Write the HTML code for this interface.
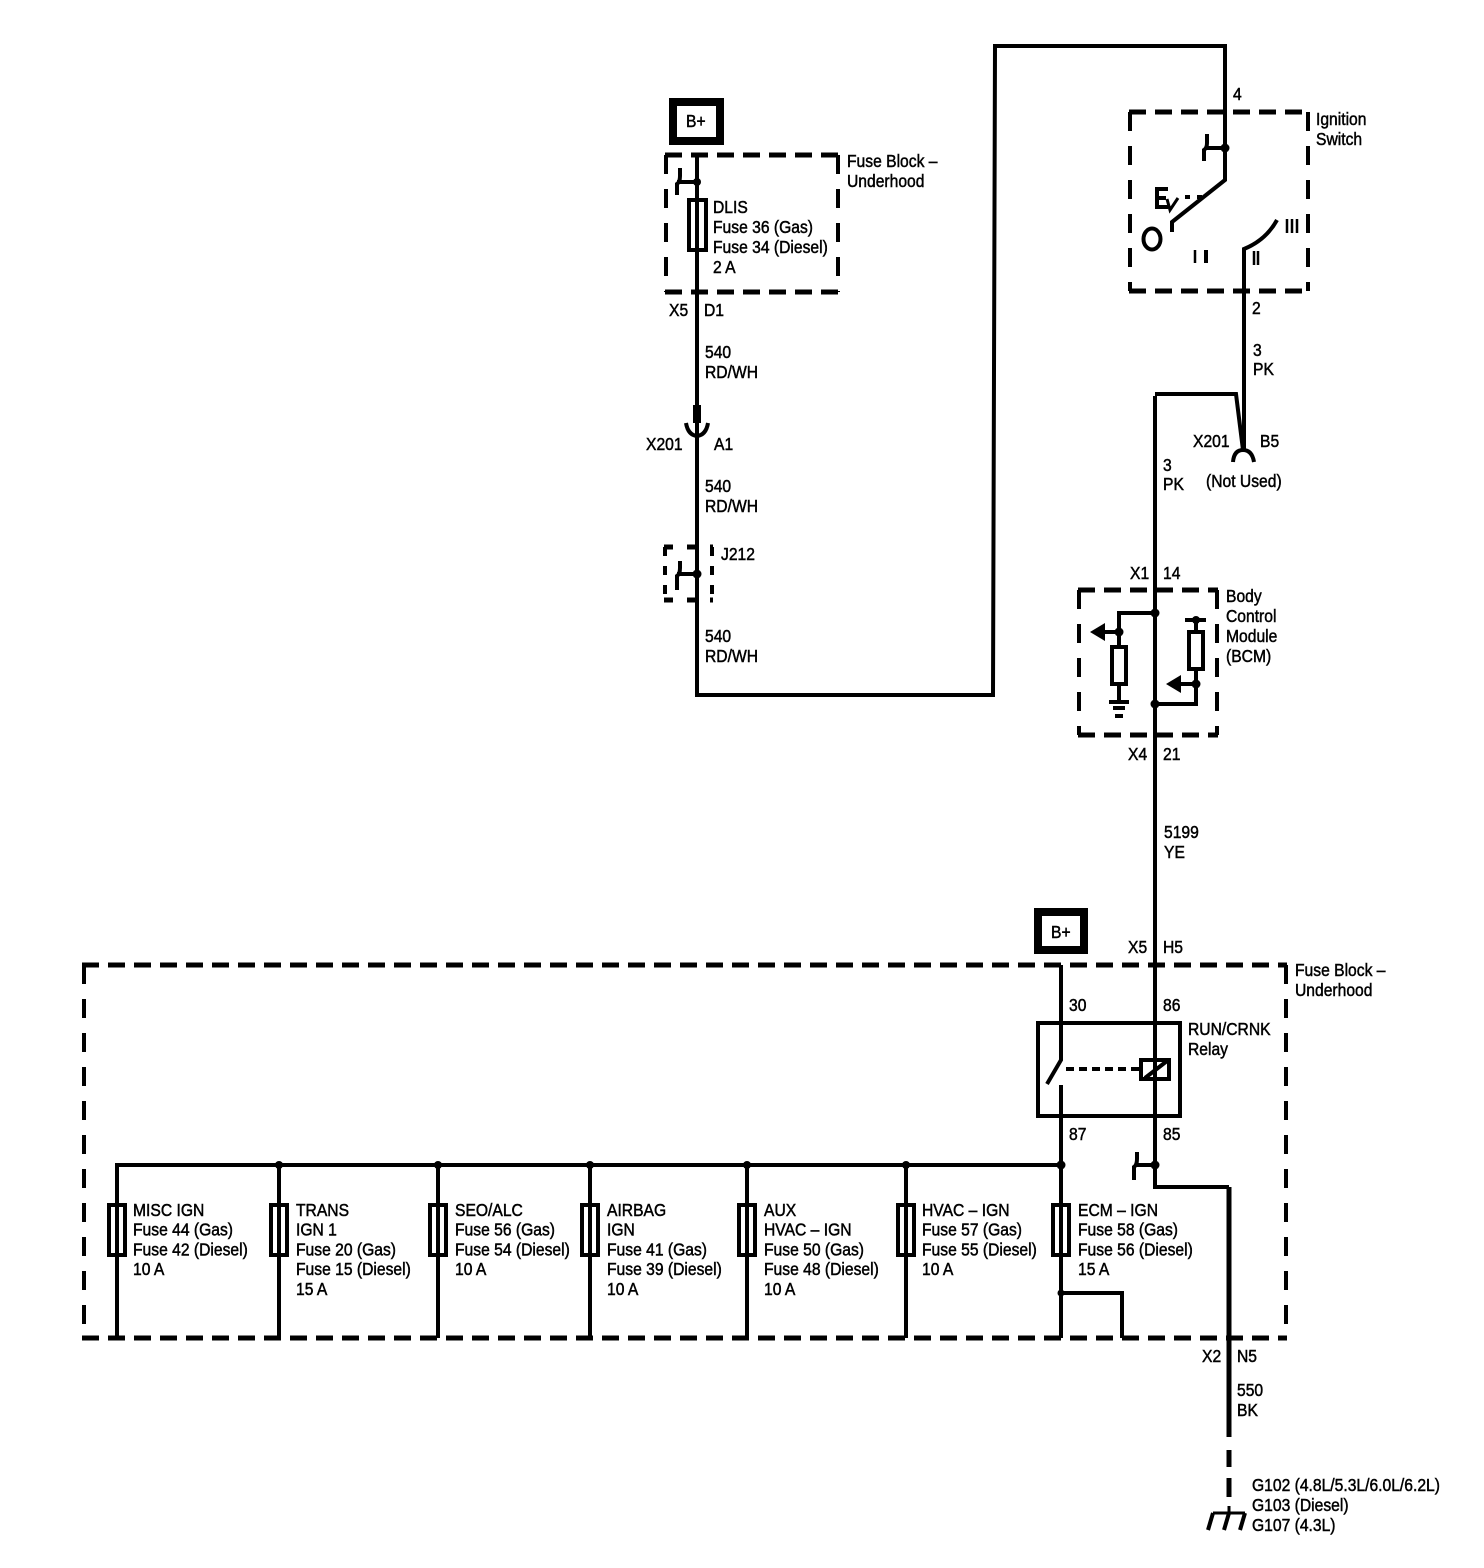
<!DOCTYPE html>
<html><head><meta charset="utf-8"><style>
html,body{margin:0;padding:0;background:#fff}
svg{display:block}
text{font-family:"Liberation Sans",sans-serif;font-size:18px;fill:#000;stroke:#000;stroke-width:.5}
.w{fill:none;stroke:#000;stroke-width:4}
.h{fill:none;stroke:#000;stroke-width:5;stroke-dasharray:17 9}
.v{fill:none;stroke:#000;stroke-width:4;stroke-dasharray:19 15}
.f{fill:none;stroke:#000;stroke-width:4}
</style></head><body>
<svg width="1484" height="1568" viewBox="0 0 1484 1568" xmlns="http://www.w3.org/2000/svg">
<!-- B+ boxes -->
<rect x="673" y="102" width="47" height="39" fill="none" stroke="#000" stroke-width="8"/>
<rect x="1038" y="912" width="46" height="38" fill="none" stroke="#000" stroke-width="8"/>
<!-- Dashed boxes -->
<path class="h" d="M665 155H838M665 292H838"/><path class="v" d="M666 155V292M838 155V292"/>
<path class="h" d="M1129 112H1309M1129 291H1309"/><path class="v" d="M1130 112V291M1308 112V291"/>
<path class="h" d="M664 547H713M664 600H713" style="stroke-dasharray:9 14"/><path class="v" d="M665 547V600M712 547V600" style="stroke-dasharray:9 10"/>
<path class="h" d="M1078 590H1218M1078 735H1218"/><path class="v" d="M1079 590V735M1217 590V735"/>
<path class="h" d="M82 965H1287M82 1338H1287"/><path class="v" d="M84 965V1338M1286 965V1338"/>
<!-- Left feed -->
<path class="w" d="M697 155V695H993L995 46H1225V180L1172 222V232"/>
<path d="M697 405V423" stroke="#000" stroke-width="8" fill="none"/>
<path class="w" d="M686 423Q688 435 697 436Q706 435 708 423"/>
<path class="w" d="M680 168V176Q680 182 677 184V195M677 182H697"/>
<circle cx="697" cy="182" r="4"/>
<rect x="689" y="200" width="17" height="50" class="f"/>
<path class="w" d="M680 561V568Q680 574 677 576V590M677 574H697"/>
<circle cx="697" cy="574" r="4.5"/>
<!-- Switch -->
<path class="w" d="M1207 134V143Q1207 148 1204 150V161M1205 148H1225"/>
<circle cx="1225" cy="148" r="4.5"/>
<ellipse cx="1152" cy="239" rx="8.5" ry="10.5" fill="none" stroke="#000" stroke-width="4"/>
<path class="w" d="M1168 189H1157V207H1168M1157 198H1166" style="stroke-width:4"/>
<path class="w" d="M1167 199L1170 210L1178 198" style="stroke-width:3"/>
<path class="w" d="M1185 197H1190M1197 197H1202"/>
<path class="w" d="M1195 250V263" style="stroke-width:2.5"/>
<path class="w" d="M1206 250V263" style="stroke-width:4"/>
<path class="w" d="M1254 251V265M1258 251V265" style="stroke-width:2.5"/>
<path class="w" d="M1287 219V233M1292 219V233M1297 219V233" style="stroke-width:2.5"/>
<path class="w" d="M1277 220Q1266 240 1244 249V450"/>
<path class="w" d="M1155 396V1165M1155 394H1236L1243 450"/>
<path class="w" d="M1233 462Q1234 450 1243 450Q1252 450 1254 462"/>
<!-- BCM -->
<circle cx="1155" cy="613" r="4.5"/>
<path class="w" d="M1155 613H1119V647M1119 684V702"/>
<rect x="1112" y="647" width="14" height="37" class="f"/>
<circle cx="1119" cy="632" r="4.5"/>
<path class="w" d="M1119 632H1100"/>
<path d="M1090 632L1105 623V641Z"/>
<path class="w" d="M1109 702H1129M1113 708H1125"/>
<path class="w" d="M1115 716H1123"/>
<circle cx="1196" cy="620" r="4"/>
<path class="w" d="M1185 620H1206M1196 620V632M1196 669V704H1155"/>
<rect x="1189" y="632" width="14" height="37" class="f"/>
<circle cx="1196" cy="684" r="4.5"/>
<path class="w" d="M1196 684H1176"/>
<path d="M1166 684L1181 675V693Z"/>
<circle cx="1155" cy="704" r="4.5"/>
<!-- Relay -->
<rect x="1038" y="1023" width="142" height="93" class="f"/>
<path class="w" d="M1061 965V1060L1047 1084M1061 1085V1338"/>
<path d="M1066 1069H1140" fill="none" stroke="#000" stroke-width="4" stroke-dasharray="8 5"/>
<rect x="1141" y="1060" width="28" height="19" class="f"/>
<path class="w" d="M1145 1078L1167 1061"/>
<path class="w" d="M1155 1165V1187H1229"/>
<path d="M1229 1187V1437" fill="none" stroke="#000" stroke-width="5"/>
<path class="w" d="M1137 1152V1159Q1137 1165 1134 1167V1180M1135 1165H1155"/>
<circle cx="1155" cy="1165" r="4.5"/>
<!-- Ground -->
<path d="M1229 1450V1467M1229 1478V1497" fill="none" stroke="#000" stroke-width="5"/>
<path class="w" d="M1229 1506V1513M1213 1513H1245" style="stroke-width:3"/>
<path class="w" d="M1213 1513L1208 1530M1229 1513L1224 1530M1245 1513L1240 1530" style="stroke-width:4"/>
<!-- Bus -->
<path class="w" d="M117 1338V1165H1061M279 1165V1338M438 1165V1338M590 1165V1338M747 1165V1338M906 1165V1338"/>
<path class="w" d="M1061 1293H1122V1338"/>
<circle cx="279" cy="1165" r="4"/><circle cx="438" cy="1165" r="4"/><circle cx="590" cy="1165" r="4"/><circle cx="747" cy="1165" r="4"/><circle cx="906" cy="1165" r="4"/><circle cx="1061" cy="1165" r="4.5"/><circle cx="1061" cy="1293" r="3.5"/>
<rect x="109" y="1205" width="16" height="50" class="f"/>
<rect x="271" y="1205" width="16" height="50" class="f"/>
<rect x="430" y="1205" width="16" height="50" class="f"/>
<rect x="582" y="1205" width="16" height="50" class="f"/>
<rect x="739" y="1205" width="16" height="50" class="f"/>
<rect x="898" y="1205" width="16" height="50" class="f"/>
<rect x="1053" y="1205" width="16" height="50" class="f"/>
<!-- Labels -->
<g transform="translate(686,127) scale(.87,1)"><text>B+</text></g>
<g transform="translate(1051,938) scale(.87,1)"><text>B+</text></g>
<g transform="translate(847,167) scale(.87,1)"><text>Fuse Block –<tspan x="0" dy="20">Underhood</tspan></text></g>
<g transform="translate(713,213) scale(.87,1)"><text>DLIS<tspan x="0" dy="20">Fuse 36 (Gas)</tspan><tspan x="0" dy="20">Fuse 34 (Diesel)</tspan><tspan x="0" dy="20">2 A</tspan></text></g>
<g transform="translate(669,316) scale(.87,1)"><text>X5</text></g>
<g transform="translate(704,316) scale(.87,1)"><text>D1</text></g>
<g transform="translate(705,358) scale(.87,1)"><text>540<tspan x="0" dy="20">RD/WH</tspan></text></g>
<g transform="translate(646,450) scale(.87,1)"><text>X201</text></g>
<g transform="translate(714,450) scale(.87,1)"><text>A1</text></g>
<g transform="translate(705,492) scale(.87,1)"><text>540<tspan x="0" dy="20">RD/WH</tspan></text></g>
<g transform="translate(721,560) scale(.87,1)"><text>J212</text></g>
<g transform="translate(705,642) scale(.87,1)"><text>540<tspan x="0" dy="20">RD/WH</tspan></text></g>
<g transform="translate(1233,100) scale(.87,1)"><text>4</text></g>
<g transform="translate(1316,125) scale(.87,1)"><text>Ignition<tspan x="0" dy="20">Switch</tspan></text></g>
<g transform="translate(1252,314) scale(.87,1)"><text>2</text></g>
<g transform="translate(1253,356) scale(.87,1)"><text>3<tspan x="0" dy="19">PK</tspan></text></g>
<g transform="translate(1193,447) scale(.87,1)"><text>X201</text></g>
<g transform="translate(1260,447) scale(.87,1)"><text>B5</text></g>
<g transform="translate(1163,471) scale(.87,1)"><text>3<tspan x="0" dy="19">PK</tspan></text></g>
<g transform="translate(1206,487) scale(.87,1)"><text>(Not Used)</text></g>
<g transform="translate(1130,579) scale(.87,1)"><text>X1</text></g>
<g transform="translate(1163,579) scale(.87,1)"><text>14</text></g>
<g transform="translate(1226,602) scale(.87,1)"><text>Body<tspan x="0" dy="20">Control</tspan><tspan x="0" dy="20">Module</tspan><tspan x="0" dy="20">(BCM)</tspan></text></g>
<g transform="translate(1128,760) scale(.87,1)"><text>X4</text></g>
<g transform="translate(1163,760) scale(.87,1)"><text>21</text></g>
<g transform="translate(1164,838) scale(.87,1)"><text>5199<tspan x="0" dy="20">YE</tspan></text></g>
<g transform="translate(1128,953) scale(.87,1)"><text>X5</text></g>
<g transform="translate(1163,953) scale(.87,1)"><text>H5</text></g>
<g transform="translate(1295,976) scale(.87,1)"><text>Fuse Block –<tspan x="0" dy="20">Underhood</tspan></text></g>
<g transform="translate(1069,1011) scale(.87,1)"><text>30</text></g>
<g transform="translate(1163,1011) scale(.87,1)"><text>86</text></g>
<g transform="translate(1188,1035) scale(.87,1)"><text>RUN/CRNK<tspan x="0" dy="20">Relay</tspan></text></g>
<g transform="translate(1069,1140) scale(.87,1)"><text>87</text></g>
<g transform="translate(1163,1140) scale(.87,1)"><text>85</text></g>
<g transform="translate(133,1216) scale(.87,1)"><text>MISC IGN<tspan x="0" dy="19.7">Fuse 44 (Gas)</tspan><tspan x="0" dy="19.7">Fuse 42 (Diesel)</tspan><tspan x="0" dy="19.7">10 A</tspan></text></g>
<g transform="translate(296,1216) scale(.87,1)"><text>TRANS<tspan x="0" dy="19.7">IGN 1</tspan><tspan x="0" dy="19.7">Fuse 20 (Gas)</tspan><tspan x="0" dy="19.7">Fuse 15 (Diesel)</tspan><tspan x="0" dy="19.7">15 A</tspan></text></g>
<g transform="translate(455,1216) scale(.87,1)"><text>SEO/ALC<tspan x="0" dy="19.7">Fuse 56 (Gas)</tspan><tspan x="0" dy="19.7">Fuse 54 (Diesel)</tspan><tspan x="0" dy="19.7">10 A</tspan></text></g>
<g transform="translate(607,1216) scale(.87,1)"><text>AIRBAG<tspan x="0" dy="19.7">IGN</tspan><tspan x="0" dy="19.7">Fuse 41 (Gas)</tspan><tspan x="0" dy="19.7">Fuse 39 (Diesel)</tspan><tspan x="0" dy="19.7">10 A</tspan></text></g>
<g transform="translate(764,1216) scale(.87,1)"><text>AUX<tspan x="0" dy="19.7">HVAC – IGN</tspan><tspan x="0" dy="19.7">Fuse 50 (Gas)</tspan><tspan x="0" dy="19.7">Fuse 48 (Diesel)</tspan><tspan x="0" dy="19.7">10 A</tspan></text></g>
<g transform="translate(922,1216) scale(.87,1)"><text>HVAC – IGN<tspan x="0" dy="19.7">Fuse 57 (Gas)</tspan><tspan x="0" dy="19.7">Fuse 55 (Diesel)</tspan><tspan x="0" dy="19.7">10 A</tspan></text></g>
<g transform="translate(1078,1216) scale(.87,1)"><text>ECM – IGN<tspan x="0" dy="19.7">Fuse 58 (Gas)</tspan><tspan x="0" dy="19.7">Fuse 56 (Diesel)</tspan><tspan x="0" dy="19.7">15 A</tspan></text></g>
<g transform="translate(1202,1362) scale(.87,1)"><text>X2</text></g>
<g transform="translate(1237,1362) scale(.87,1)"><text>N5</text></g>
<g transform="translate(1237,1396) scale(.87,1)"><text>550<tspan x="0" dy="20">BK</tspan></text></g>
<g transform="translate(1252,1491) scale(.87,1)"><text>G102 (4.8L/5.3L/6.0L/6.2L)<tspan x="0" dy="20">G103 (Diesel)</tspan><tspan x="0" dy="20">G107 (4.3L)</tspan></text></g>
</svg>
</body></html>
